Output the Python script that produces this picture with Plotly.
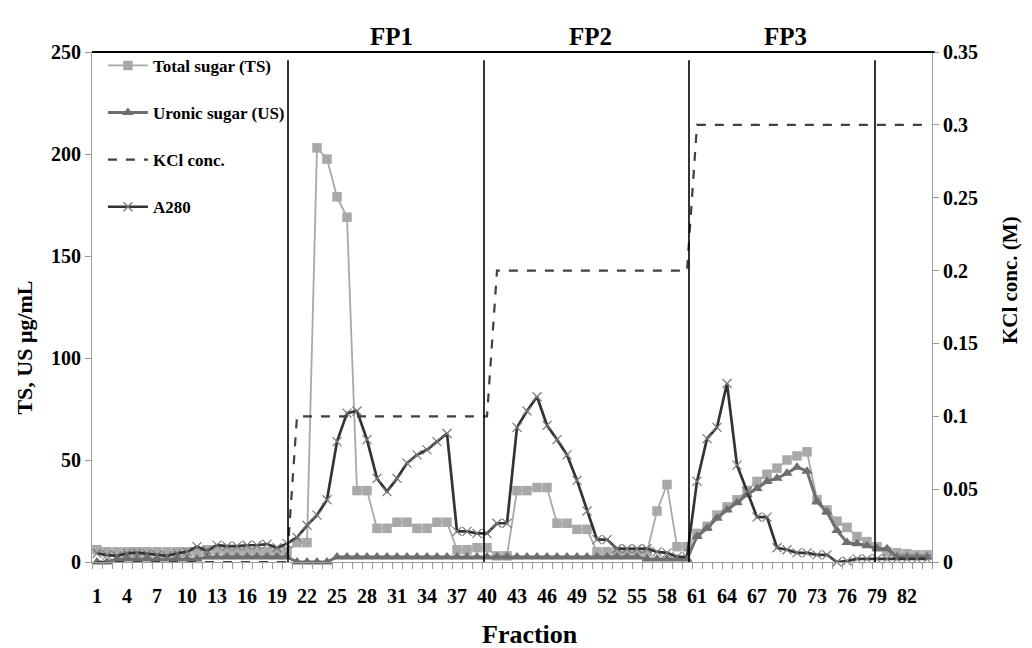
import plotly.graph_objects as go

fractions = list(range(1, 85))

total_sugar = [6, 5, 5, 5, 5, 5, 5, 5, 5, 5, 5, 6, 6, 5, 5, 5, 5, 5, 5, 5,
               9.5, 9.5, 203, 197.5, 179, 169, 35, 35, 16.5, 16.5,
               19.5, 19.5, 16.5, 16.5, 19.5, 19.5, 6, 6, 7, 7,
               3, 3, 35, 35, 36.5, 36.5, 19, 19, 16, 16,
               5, 5, 5, 5, 5, 5, 25, 38, 7.5, 7.5,
               14, 17.5, 23, 27, 30.5, 35, 39.5, 43, 46, 50, 52, 54,
               30.5, 25.5, 20, 17, 12.5, 10, 7.5, 5, 4.5, 4, 3.5, 3.5]

uronic_sugar = [0, 0, 1.5, 1.5, 1.5, 1.5, 1.5, 1.5, 1.5, 1.5, 1.5, 2.5, 2.5, 2.5, 2.5, 2.5, 2.5, 2.5, 2.5, 2.5,
                0, 0, 0, 0, 2.5, 2.5, 2.5, 2.5, 2.5, 2.5,
                2.5, 2.5, 2.5, 2.5, 2.5, 2.5, 2.5, 2.5, 2.5, 2.5,
                2.5, 2.5, 2.5, 2.5, 2.5, 2.5, 2.5, 2.5, 2.5, 2.5,
                2.5, 2.5, 2.5, 2.5, 2.5, 1.5, 1.5, 1.5, 1.5, 1.5,
                12.5, 16.5, 21.5, 25.5, 29, 33, 36, 39.5, 41, 43.5, 46.5, 44.5,
                29.5, 24.5, 15.5, 9.5, 9, 8, 6.5, 6.5, 2.5, 2.5, 2.5, 2.5]

kcl_conc = [0] * 20 + [0.1] * 20 + [0.2] * 20 + [0.3] * 24

a280 = [4.2, 3.4, 3, 4.2, 4.6, 4, 3.4, 3, 4.2, 5,
        7.5, 5.5, 8.3, 7.8, 7.8, 8.2, 8.2, 8.8, 7, 9,
        12, 18, 23, 30.5, 59, 73, 74, 60, 41, 34.5,
        41, 48.5, 52.5, 55, 59, 63, 15, 15, 14, 14,
        19, 19, 66, 74, 81, 67, 60, 52.5, 40, 25,
        11, 11, 6.5, 6.5, 6.5, 6.5, 5, 4.5, 2.5, 2.5,
        39.5, 60.5, 66, 87.5, 47.5, 34.5, 22, 22, 7, 6,
        4.5, 4.5, 3.5, 3.5, 0, 0.5, 1.5, 1.5, 1.5, 1.5, 1.5, 1.5, 1.5, 1.5]

tick_fractions = list(range(1, 85, 3))
tick_labels = [str(v) for v in tick_fractions]

section_bounds = [20.1, 39.7, 60.2, 78.8]
section_names = ["FP1", "FP2", "FP3"]
section_centers = [30.4, 50.3, 69.8]

FONT = "Liberation Serif"

fig = go.Figure()
fig.add_trace(go.Scatter(
    x=fractions, y=total_sugar, name="Total sugar (TS)", legendgroup="ts",
    mode="lines+markers", line=dict(color="#a8a8a8", width=1.8),
    marker=dict(symbol="square", size=9.5, color="#a8a8a8"), cliponaxis=False))
fig.add_trace(go.Scatter(
    x=fractions, y=uronic_sugar, name="Uronic sugar (US)", legendgroup="us",
    mode="lines+markers", line=dict(color="#6e6e6e", width=3),
    marker=dict(symbol="triangle-up", size=10, color="#6e6e6e"), cliponaxis=False))
fig.add_trace(go.Scatter(
    x=fractions, y=kcl_conc, name="KCl conc.", legendgroup="kcl", yaxis="y2",
    mode="lines", line=dict(color="#404040", width=2.2, dash="dash")))
fig.add_trace(go.Scatter(
    x=fractions, y=a280, name="A280", legendgroup="a280",
    mode="lines+markers", line=dict(color="#333333", width=2.7),
    marker=dict(symbol="x-thin", size=9, color="#777777",
                line=dict(width=1.2, color="#777777")), cliponaxis=False))

shapes = []
for b in section_bounds:
    shapes.append(dict(type="line", xref="x", yref="y", x0=b, x1=b, y0=-1, y1=246,
                       line=dict(color="black", width=1.6)))
shapes.append(dict(type="line", xref="paper", yref="paper", x0=0, x1=1.003, y0=1, y1=1,
                   line=dict(color="black", width=2)))

annotations = []
for name, c in zip(section_names, section_centers):
    annotations.append(dict(x=c, y=1.031, xref="x", yref="paper", text="<b>" + name + "</b>",
                            showarrow=False, xanchor="center", yanchor="middle",
                            font=dict(family=FONT, size=25, color="black")))
annotations.append(dict(x=0.521, y=-0.143, xref="paper", yref="paper", text="<b>Fraction</b>",
                        showarrow=False, xanchor="center", yanchor="middle",
                        font=dict(family=FONT, size=26, color="black")))
annotations.append(dict(x=-0.08, y=0.42, xref="paper", yref="paper", text="<b>TS, US μg/mL</b>",
                        showarrow=False, textangle=-90, xanchor="center", yanchor="middle",
                        font=dict(family=FONT, size=22, color="black")))
annotations.append(dict(x=1.093, y=0.553, xref="paper", yref="paper", text="<b>KCl conc. (M)</b>",
                        showarrow=False, textangle=-90, xanchor="center", yanchor="middle",
                        font=dict(family=FONT, size=21, color="black")))

# the page body adds an 8px offset, so the figure is 8px smaller with shifted margins
fig.update_layout(
    width=1024, height=640,
    margin=dict(l=84, r=100, t=44, b=86),
    paper_bgcolor="white", plot_bgcolor="white",
    font=dict(family=FONT, color="black"),
    showlegend=True,
    legend=dict(x=0.013, y=1.008, xanchor="left", yanchor="top", bgcolor="rgba(0,0,0,0)",
                font=dict(family=FONT, size=17, color="black", weight="bold"),
                tracegroupgap=22, itemwidth=40),
    xaxis=dict(range=[0.5, 84.5], tickmode="array", tickvals=tick_fractions, ticktext=tick_labels,
               ticks="outside", ticklen=16, tickcolor="rgba(0,0,0,0)",
               tickfont=dict(family=FONT, size=20, color="black", weight="bold"),
               showgrid=False, zeroline=False, showline=True, linecolor="#9a9a9a", linewidth=1,
               minor=dict(ticks="outside", tick0=0.5, dtick=1, ticklen=6, tickcolor="#9a9a9a",
                          showgrid=False)),
    yaxis=dict(range=[0, 250], dtick=50, ticks="outside", ticklen=6, tickcolor="#9a9a9a",
               tickfont=dict(family=FONT, size=20, color="black", weight="bold"),
               showgrid=False, zeroline=False, showline=True, linecolor="#9a9a9a", linewidth=1),
    yaxis2=dict(range=[0, 0.35], dtick=0.05, overlaying="y", side="right",
                ticks="outside", ticklen=6, tickcolor="#9a9a9a",
                tickfont=dict(family=FONT, size=20, color="black", weight="bold"),
                showgrid=False, zeroline=False, showline=True, linecolor="#9a9a9a", linewidth=1),
    shapes=shapes,
    annotations=annotations,
)

fig.write_html("out.html")
